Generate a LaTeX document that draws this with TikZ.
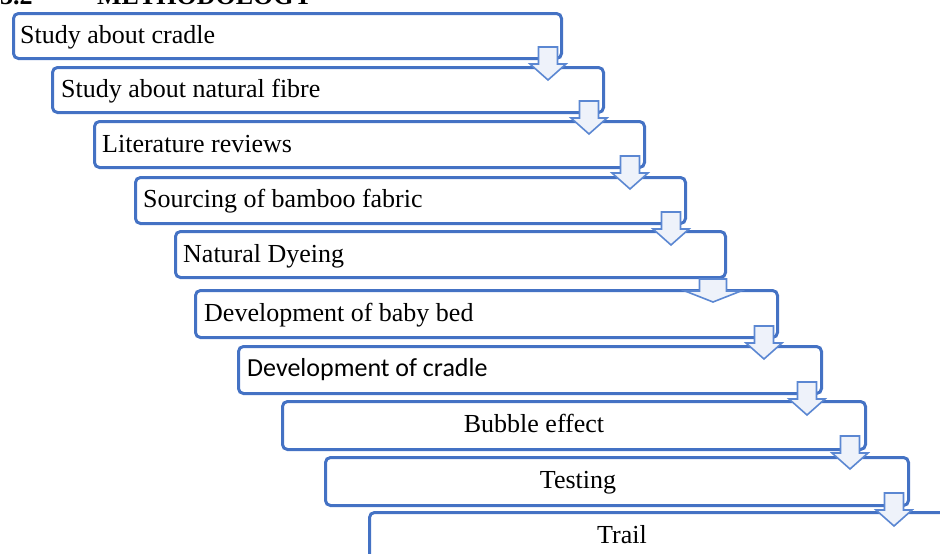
\documentclass[tikz,border=0pt]{standalone}
\usepackage{fontspec}
\setmainfont{Liberation Serif}
\newfontfamily\calibrifont{Carlito}
\definecolor{boxblue}{HTML}{4472C4}
\definecolor{arrowblue}{HTML}{5B87D2}
\definecolor{arrowfill}{HTML}{EEF2FA}
\tikzset{
  stepbox/.style={draw=boxblue, line width=3pt, rounded corners=5pt, anchor=north west, inner sep=0pt},
  steptext/.style={inner sep=0pt, font=\fontsize{26}{30}\selectfont},
  heading/.style={inner sep=0pt, anchor=base west, font=\fontsize{26}{30}\selectfont\bfseries},
  downarrow/.pic={
    \draw[draw=arrowblue, line width=1.6pt, fill=arrowfill, line join=miter]
      (-9.5,0) -- (9.5,0) -- (9.5,17) -- (18,17) -- (0,33) -- (-18,17) -- (-9.5,17) -- cycle;
  },
  bigdownarrow/.pic={
    \draw[draw=arrowblue, line width=1.6pt, fill=arrowfill, line join=miter]
      (-13.5,0) -- (13.5,0) -- (13.5,12) -- (28,12) -- (0,23) -- (-28,12) -- (-13.5,12) -- cycle;
  }
}
\begin{document}
\begin{tikzpicture}[x=1pt,y=-1pt]
\useasboundingbox (0,0) rectangle (940,554);
% heading (cut off at top)
\node[heading] (h1) at (0,5) {3.2};
\node[heading] (h2) at (97,5) {METHODOLOGY};
% boxes
\node[stepbox, minimum width=548pt, minimum height=45pt] (b1) at (12,12) {};
\node[stepbox, minimum width=551pt, minimum height=45pt] (b2) at (51,66) {};
\node[stepbox, minimum width=550pt, minimum height=46pt] (b3) at (93,120) {};
\node[stepbox, minimum width=550pt, minimum height=46pt] (b4) at (134,176) {};
\node[stepbox, minimum width=550pt, minimum height=46pt] (b5) at (174,230) {};
\node[stepbox, minimum width=582pt, minimum height=47pt] (b6) at (194,289) {};
\node[stepbox, minimum width=583pt, minimum height=47pt] (b7) at (237,345) {};
\node[stepbox, minimum width=583pt, minimum height=48pt] (b8) at (281,400) {};
\node[stepbox, minimum width=583pt, minimum height=48pt] (b9) at (324,456) {};
\node[stepbox, minimum width=620pt, minimum height=80pt] (b10) at (368,511) {};
% texts
\node[steptext, anchor=base west] (t1) at (20,43) {Study about cradle};
\node[steptext, anchor=base west] (t2) at (61,97) {Study about natural fibre};
\node[steptext, anchor=base west] (t3) at (102,152) {Literature reviews};
\node[steptext, anchor=base west] (t4) at (143,207) {Sourcing of bamboo fabric};
\node[steptext, anchor=base west] (t5) at (183,262) {Natural Dyeing};
\node[steptext, anchor=base west] (t6) at (204,321) {Development of baby bed};
\node[steptext, anchor=base west, font=\fontsize{26}{30}\selectfont\calibrifont] (t7) at (247,376) {Development of cradle};
\node[steptext, anchor=base] (t8) at (534,432) {Bubble effect};
\node[steptext, anchor=base] (t9) at (578,488) {Testing};
\node[steptext, anchor=base] (t10) at (622,543) {Trail};
% arrows
\pic at ([xshift=-15pt,yshift=13pt]b1.south east) {downarrow};
\pic at ([xshift=-16pt,yshift=13pt]b2.south east) {downarrow};
\pic at ([xshift=-16pt,yshift=13pt]b3.south east) {downarrow};
\pic at ([xshift=-16pt,yshift=13pt]b4.south east) {downarrow};
\pic at ([xshift=-14pt,yshift=0pt]b5.south east) {bigdownarrow};
\pic at ([xshift=-15pt,yshift=13pt]b6.south east) {downarrow};
\pic at ([xshift=-16pt,yshift=13pt]b7.south east) {downarrow};
\pic at ([xshift=-17pt,yshift=15pt]b8.south east) {downarrow};
\pic at ([xshift=-16pt,yshift=14pt]b9.south east) {downarrow};
\end{tikzpicture}
\end{document}
